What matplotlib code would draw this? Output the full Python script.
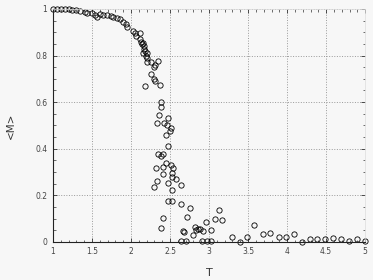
import matplotlib
matplotlib.use("Agg")
import matplotlib.pyplot as plt
from matplotlib.ticker import MultipleLocator

# temperatura y magnetizacion media
T = [1.0, 1.05, 1.1, 1.15, 1.2, 1.25, 1.3, 1.35, 1.41, 1.44, 1.50, 1.54, 1.57,
     1.60, 1.645, 1.69, 1.74, 1.775, 1.82, 1.86, 1.90, 1.94, 1.95, 2.02, 2.05,
     2.07, 2.12, 2.12, 2.13, 2.14, 2.15, 2.16, 2.17, 2.18, 2.15, 2.19, 2.20,
     2.21, 2.20, 2.26, 2.35, 2.31, 2.29, 2.26, 2.29, 2.31, 2.18, 2.37, 2.385,
     2.385, 2.36, 2.47, 2.33, 2.42, 2.46, 2.51, 2.50, 2.45, 2.47, 2.35, 2.41,
     2.39, 2.45, 2.32, 2.41, 2.51, 2.54, 2.41, 2.52, 2.53, 2.58, 2.33, 2.47,
     2.64, 2.30, 2.52, 2.47, 2.52, 2.64, 2.41, 2.39, 2.67, 2.64, 2.71,
     2.75, 2.72, 2.68, 2.82, 2.83, 2.86, 2.89, 2.92, 2.79, 2.96, 3.03, 3.07,
     3.13, 3.17, 2.91, 2.97, 3.03, 3.29, 3.39, 3.48, 3.58, 3.69, 3.78, 3.89,
     3.99, 4.09, 4.19, 4.29, 4.38, 4.49, 4.59, 4.69, 4.79, 4.89, 5.0]
M = [1.0, 1.0, 1.0, 0.999, 0.998, 0.997, 0.995, 0.99, 0.988, 0.984, 0.981,
     0.974, 0.967, 0.977, 0.974, 0.972, 0.970, 0.964, 0.960, 0.956, 0.946,
     0.936, 0.924, 0.907, 0.896, 0.884, 0.896, 0.87, 0.86, 0.85, 0.855, 0.84,
     0.83, 0.82, 0.81, 0.80, 0.81, 0.79, 0.774, 0.774, 0.776, 0.76, 0.75,
     0.72, 0.70, 0.69, 0.67, 0.674, 0.602, 0.58, 0.545, 0.53, 0.512, 0.51,
     0.50, 0.49, 0.477, 0.46, 0.41, 0.378, 0.378, 0.37, 0.34, 0.316, 0.32,
     0.33, 0.316, 0.29, 0.295, 0.28, 0.27, 0.263, 0.255, 0.245, 0.237, 0.223,
     0.176, 0.176, 0.163, 0.103, 0.061, 0.049, 0.002, 0.002,
     0.147, 0.106, 0.044, 0.066, 0.05, 0.055, 0.055, 0.047, 0.03, 0.087,
     0.05, 0.10, 0.137, 0.094, 0.002, 0.002, 0.002, 0.023, 0.0, 0.02, 0.073,
     0.033, 0.04, 0.02, 0.02, 0.033, 0.0, 0.012, 0.012, 0.012, 0.016, 0.012,
     0.004, 0.014, 0.004]

fig = plt.figure(figsize=(3.73, 2.80), dpi=100, facecolor='#f7f7f7')
ax = fig.add_axes([0.142, 0.136, 0.837, 0.832])
ax.set_facecolor('#f7f7f7')

ax.plot(T, M, 'o', mfc='none', mec='black', ms=3.8, mew=0.6, clip_on=False)

ax.set_xlim(1, 5)
ax.set_ylim(0, 1)
ax.xaxis.set_major_locator(MultipleLocator(0.5))
ax.xaxis.set_minor_locator(MultipleLocator(0.1))
ax.yaxis.set_major_locator(MultipleLocator(0.2))
ax.yaxis.set_minor_locator(MultipleLocator(0.05))
ax.xaxis.set_major_formatter(lambda v, p: f'{v:g}')
ax.yaxis.set_major_formatter(lambda v, p: f'{v:g}')

# ticks hacia adentro en los cuatro lados
ax.tick_params(which='both', direction='in', top=True, right=True,
               labelsize=5.5, labelcolor='#444444', color='#333333')
ax.tick_params(which='major', length=3, width=0.6, pad=4)
ax.tick_params(which='minor', length=1.8, width=0.5)

ax.grid(True, which='major', linestyle=':', color='#999999', linewidth=0.7)

for s in ['left', 'bottom']:
    ax.spines[s].set_color('#222222')
    ax.spines[s].set_linewidth(0.8)
for s in ['top', 'right']:
    ax.spines[s].set_color('#dddddd')
    ax.spines[s].set_linewidth(0.5)

ax.set_xlabel('T', fontsize=8, color='#333333', labelpad=8)
ax.set_ylabel('<M>', fontsize=7.5, color='#333333', labelpad=14)

fig.savefig('out.png', dpi=100, facecolor=fig.get_facecolor())
